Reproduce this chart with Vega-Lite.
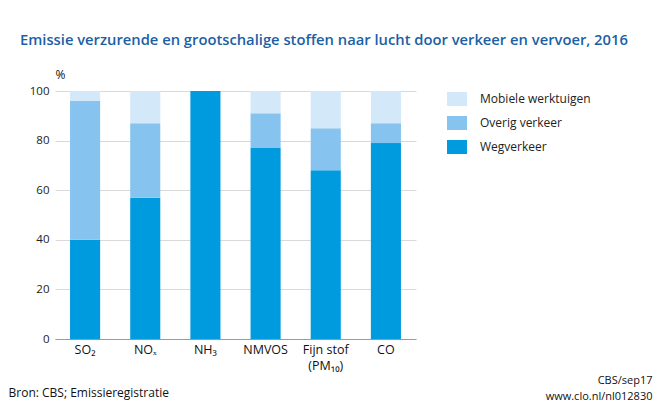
{
  "$schema": "https://vega.github.io/schema/vega-lite/v6.json",
  "width": 361,
  "height": 248,
  "autosize": {"type": "none"},
  "padding": {"left": 55, "top": 91, "right": 244, "bottom": 68},
  "background": "white",
  "title": {
    "text": "Emissie verzurende en grootschalige stoffen naar lucht door verkeer en vervoer, 2016",
    "anchor": "start",
    "frame": "group",
    "dx": -35,
    "offset": 20,
    "fontSize": 14.75,
    "font": "Open Sans",
    "fontWeight": 600,
    "color": "#1c5fa5"
  },
  "data": {
    "values": [
      {"stof": "SO₂", "categorie": "Wegverkeer", "waarde": 40},
      {"stof": "SO₂", "categorie": "Overig verkeer", "waarde": 56},
      {"stof": "SO₂", "categorie": "Mobiele werktuigen", "waarde": 4},
      {"stof": "NOₓ", "categorie": "Wegverkeer", "waarde": 57},
      {"stof": "NOₓ", "categorie": "Overig verkeer", "waarde": 30},
      {"stof": "NOₓ", "categorie": "Mobiele werktuigen", "waarde": 13},
      {"stof": "NH₃", "categorie": "Wegverkeer", "waarde": 100},
      {"stof": "NH₃", "categorie": "Overig verkeer", "waarde": 0},
      {"stof": "NH₃", "categorie": "Mobiele werktuigen", "waarde": 0},
      {"stof": "NMVOS", "categorie": "Wegverkeer", "waarde": 77},
      {"stof": "NMVOS", "categorie": "Overig verkeer", "waarde": 14},
      {"stof": "NMVOS", "categorie": "Mobiele werktuigen", "waarde": 9},
      {"stof": "Fijn stof|(PM₁₀)", "categorie": "Wegverkeer", "waarde": 68},
      {"stof": "Fijn stof|(PM₁₀)", "categorie": "Overig verkeer", "waarde": 17},
      {"stof": "Fijn stof|(PM₁₀)", "categorie": "Mobiele werktuigen", "waarde": 15},
      {"stof": "CO", "categorie": "Wegverkeer", "waarde": 79},
      {"stof": "CO", "categorie": "Overig verkeer", "waarde": 8},
      {"stof": "CO", "categorie": "Mobiele werktuigen", "waarde": 13}
    ]
  },
  "layer": [
    {
      "mark": {"type": "bar"},
      "encoding": {
        "x": {
          "field": "stof",
          "type": "nominal",
          "sort": null,
          "scale": {"paddingInner": 0.5, "paddingOuter": 0.25},
          "axis": {
            "title": "Bron: CBS; Emissieregistratie",
            "titleX": -47,
            "titleY": 53,
            "titleAnchor": "start",
            "titleAlign": "left",
            "titleBaseline": "middle",
            "titleFontWeight": "normal",
            "titleFontSize": 12,
            "titleColor": "#111111",
            "labelAngle": 0,
            "labelExpr": "split(datum.label, '|')",
            "labelFontSize": 12.5,
            "labelColor": "#111111",
            "labelPadding": 4,
            "labelLineHeight": 16,
            "labelBaseline": "top",
            "ticks": false,
            "grid": false,
            "domainColor": "#9a9a9a"
          }
        },
        "y": {
          "field": "waarde",
          "type": "quantitative",
          "stack": "zero",
          "scale": {"domain": [0, 100]},
          "axis": {
            "title": "%",
            "titleAngle": 0,
            "titleX": 0,
            "titleY": -17,
            "titleAlign": "left",
            "titleBaseline": "middle",
            "titleFontWeight": "normal",
            "titleFontSize": 12,
            "titleColor": "#111111",
            "values": [0, 20, 40, 60, 80, 100],
            "domain": false,
            "ticks": false,
            "gridColor": "#d9d9d9",
            "labelPadding": 6,
            "labelFontSize": 11.5,
            "labelColor": "#222222"
          }
        },
        "color": {
          "field": "categorie",
          "type": "nominal",
          "scale": {
            "domain": ["Mobiele werktuigen", "Overig verkeer", "Wegverkeer"],
            "range": ["#d3e8f9", "#86c4ef", "#009bde"]
          },
          "legend": {
            "title": null,
            "orient": "none",
            "legendX": 392,
            "legendY": -2,
            "symbolType": "M-1,-0.7H1V0.7H-1Z",
            "symbolSize": 400,
            "symbolStrokeWidth": 0,
            "symbolOpacity": 1,
            "rowPadding": 7,
            "labelFontSize": 12,
            "labelOffset": 13,
            "labelColor": "#222222",
            "padding": 0
          }
        },
        "order": {"field": "categorie", "sort": "descending"}
      }
    },
    {
      "mark": {"type": "rule", "opacity": 0},
      "encoding": {
        "y": {
          "datum": 0,
          "type": "quantitative",
          "axis": {
            "orient": "right",
            "title": ["CBS/sep17", "www.clo.nl/nl012830"],
            "labels": false,
            "ticks": false,
            "domain": false,
            "grid": false,
            "titleAngle": 0,
            "titleX": 236,
            "titleY": 283,
            "titleAlign": "right",
            "titleBaseline": "top",
            "titleFontWeight": "normal",
            "titleFontSize": 11,
            "titleLineHeight": 16,
            "titleColor": "#111111"
          }
        }
      }
    }
  ],
  "resolve": {"scale": {"y": "independent"}},
  "config": {"view": {"stroke": null}, "font": "Open Sans"}
}
